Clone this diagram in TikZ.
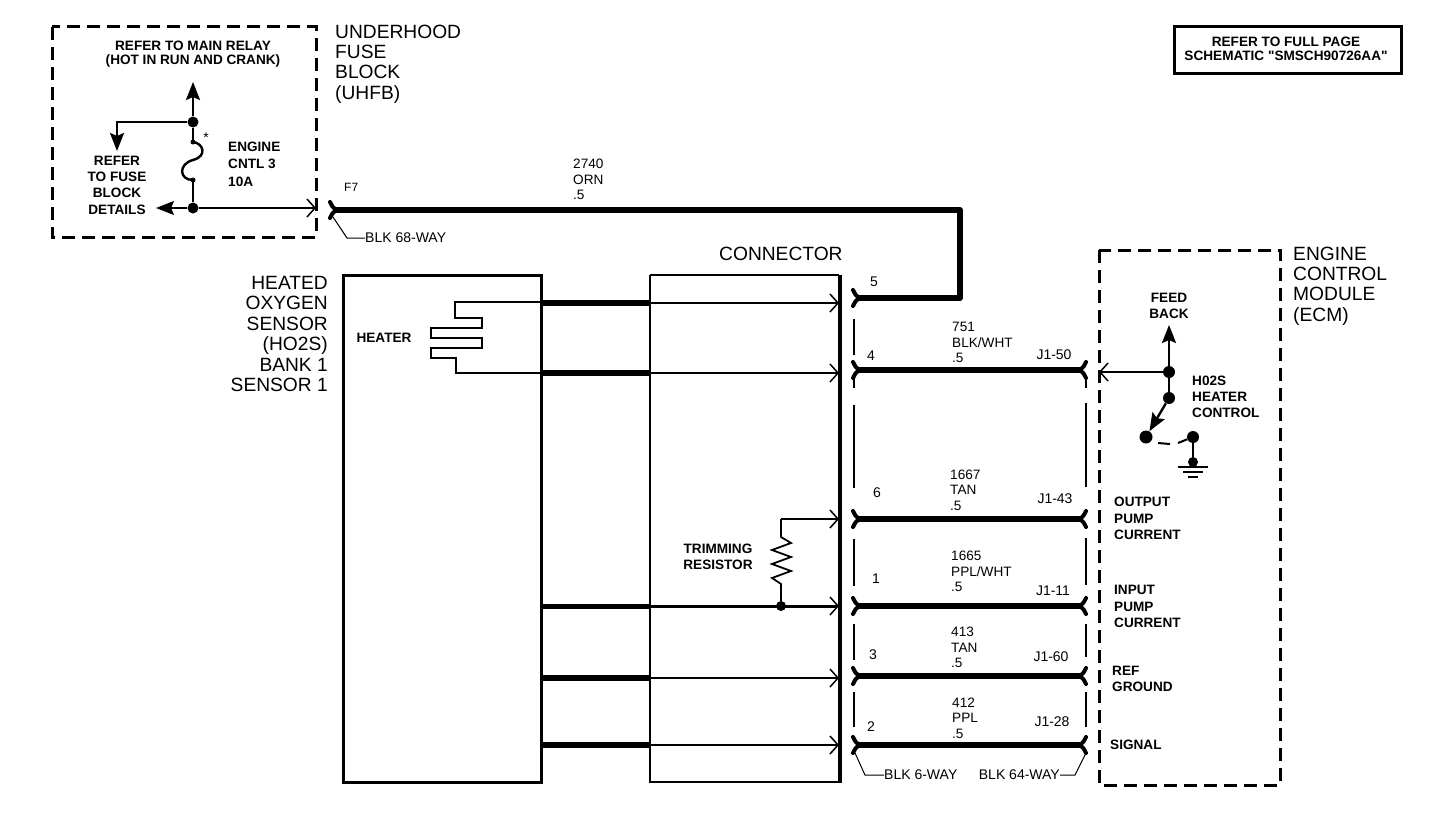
\documentclass[tikz,border=0pt]{standalone}
\usepackage{fontspec}
\setmainfont{Liberation Sans}
\newfontfamily\plainq{Liberation Sans}[Ligatures=ResetAll]
\usetikzlibrary{arrows.meta}
\tikzset{
  x=1pt,y=-1pt,
  big/.style={inner sep=0pt,font=\fontsize{19.2}{20.4}\selectfont,align=left,anchor=west},
  bigr/.style={inner sep=0pt,font=\fontsize{19.2}{20.4}\selectfont,align=right,anchor=east},
  small/.style={inner sep=0pt,font=\fontsize{13.6}{16.3}\selectfont\bfseries,align=left,anchor=west},
  smallc/.style={inner sep=0pt,font=\fontsize{13.6}{16.3}\selectfont\bfseries,align=center,anchor=center},
  wlabel/.style={inner sep=0pt,font=\fontsize{13.6}{15.6}\selectfont,align=left,anchor=west},
  tiny/.style={inner sep=0pt,font=\fontsize{14}{15}\selectfont,anchor=center},
  dbox/.style={draw,line width=3pt,dash pattern=on 13pt off 7pt},
  solidbox/.style={draw,line width=3pt},
  wire/.style={line width=6pt,line join=round},
  stub/.style={line width=6pt},
  mid/.style={line width=2.4pt,line join=miter},
  thin wire/.style={line width=1.2pt,line join=miter},
  open/.style={-{Straight Barb[length=8pt,width=18pt,line width=1.5pt]}},
  solidtip/.style={-{Stealth[length=18pt,width=14pt,inset=3pt]}},
  pinbar/.style={line width=4pt,line cap=round},
  guide/.style={line width=2pt},
  dot/.style={circle,fill,inner sep=0pt,minimum size=#1},
  dot/.default=11pt,
  leader/.style={line width=1pt},
  pinL/.pic={\draw[pinbar] (0,-8) .. controls (2,-4) and (3,-2) .. (6,0) .. controls (3,2) and (2,4) .. (0,8);},
  pinR/.pic={\draw[pinbar] (0,-8) .. controls (-2,-4) and (-3,-2) .. (-6,0) .. controls (-3,2) and (-2,4) .. (0,8);}
}
\begin{document}
\begin{tikzpicture}
\path[use as bounding box,fill=white] (0,0) rectangle (1440,816);

% boxes
\draw[dbox] (52,27) rectangle (316,237);
\draw[dbox] (1099,250) rectangle (1280,785);
\draw[solidbox] (1174,27) rectangle (1401,74);
\draw[line width=3pt] (343,275) rectangle (541,782);
\draw[line width=2.4pt] (650,275) -- (839,275);
\draw[line width=2.4pt] (650,275) -- (650,782) -- (839,782);
\draw[line width=3.5pt] (840,275) -- (840,783);

% refer box text
\node[smallc,font=\fontsize{13.6}{14}\selectfont\bfseries] (fullpage) at (1286,49) {REFER TO FULL PAGE\\SCHEMATIC {\plainq\bfseries"}SMSCH90726AA{\plainq\bfseries"}};

% titles
\node[big] (uhfb) at (335,64) {UNDERHOOD\\FUSE\\BLOCK\\(UHFB)};
\node[bigr] (ho2s) at (328,334) {HEATED\\OXYGEN\\SENSOR\\(HO2S)\\BANK 1\\SENSOR 1};
\node[big] (connector) at (719,254) {CONNECTOR};
\node[big] (ecm) at (1293,286) {ENGINE\\CONTROL\\MODULE\\(ECM)};

% fuse block
\node[smallc,font=\fontsize{13.6}{14}\selectfont\bfseries] (mainrelay) at (193,54) {REFER TO MAIN RELAY\\(HOT IN RUN AND CRANK)};
\node[smallc] (fusedetails) at (117,185) {REFER\\TO FUSE\\BLOCK\\DETAILS};
\node[small,font=\fontsize{13.6}{17.5}\selectfont\bfseries] (engcntl) at (228,164) {ENGINE\\CNTL 3\\10A};
\node[tiny] (star) at (206,138) {*};
\node[dot] (j1) at (193,122) {};
\node[dot] (j2) at (193,208) {};
\coordinate (relayup) at (193,82);
\coordinate (relayturn) at (117,122);
\coordinate (relaydown) at (117,151);
\coordinate (fusetop) at (193,142);
\coordinate (fusebot) at (193,180);
\coordinate (detailsleft) at (156,208);
\coordinate (uhfbpin) at (316,208);
\draw[mid,solidtip] (j1) -- (relayup);
\draw[mid,solidtip] (j1) -| (relaydown);
\draw[mid] (j1) -- (fusetop);
\draw[mid] (fusetop) .. controls (203,143) and (208,156) .. (193,160) .. controls (178,164) and (179,180) .. (fusebot);
\draw[mid] (fusebot) -- (j2);
\draw[thin wire,solidtip] (j2) -- (detailsleft);
\draw[thin wire,open] (j2) -- (uhfbpin);
\fill (fusetop) circle (2.5pt);
\fill (fusebot) circle (2.5pt);

% top wire
\node[tiny,anchor=west,font=\fontsize{12}{15}\selectfont] (f7) at (344,187) {F7};
\coordinate (wtL) at (330,210);
\coordinate (wtS) at (333,210);
\coordinate (wtC) at (960,210);
\coordinate (w5L) at (853,298);
\coordinate (w5S) at (856,298);
\coordinate (wtV) at (960,298);
\draw[wire] (wtS) -- (wtC) -- (wtV) -- (w5S);
\path (wtL) pic {pinL};
\path (w5L) pic {pinL};
\node[wlabel] (l2740) at (573,179.5) {2740\\ORN\\.5};
\coordinate (b68a) at (333,217);
\coordinate (b68b) at (347,238);
\node[tiny,anchor=west] (b68) at (365,238) {BLK 68-WAY};
\draw[leader] (b68a) -- (b68b) -- (b68);

% heater
\node[smallc] (heater) at (384,338) {HEATER};
\coordinate (h1) at (541,302);
\coordinate (h2) at (541,373);
\coordinate (c1) at (650,303);
\coordinate (c4) at (650,373);
\draw[thin wire,line width=1.6pt] (h1) -- (455,302) -- (455,318) -- (482,318) -- (482,328) -- (431,328) -- (431,338) -- (482,338) -- (482,348) -- (431,348) -- (431,358) -- (456,358) -- (456,373) -- (h2);

% sensor stubs
\coordinate (s5) at (541,303); \coordinate (a5) at (839,303);
\coordinate (s4) at (541,373); \coordinate (a4) at (839,373);
\coordinate (s1) at (541,606); \coordinate (c1b) at (650,606); \coordinate (a1) at (839,606);
\coordinate (s3) at (541,678); \coordinate (c3) at (650,678); \coordinate (a3) at (839,678);
\coordinate (s2) at (541,745); \coordinate (c2) at (650,745); \coordinate (a2) at (839,745);
\draw[stub] (s5) -- (c1); \draw[stub] (s4) -- (c4);
\draw[stub,line width=5pt] (s1) -- (c1b);
\draw[stub] (s3) -- (c3); \draw[stub] (s2) -- (c2);
\draw[thin wire,open] (c1) -- (a5);
\draw[thin wire,open] (c4) -- (a4);
\draw[mid,line width=3pt,open] (c1b) -- (a1);
\draw[thin wire,open] (c3) -- (a3);
\draw[thin wire,open] (c2) -- (a2);

% trimming resistor
\node[smallc] (trim) at (718,557) {TRIMMING\\RESISTOR};
\node[dot=10pt] (jr) at (781,606) {};
\coordinate (a6) at (839,519);
\draw[mid,line width=1.8pt] (jr) -- (781,584) -- (772,578) -- (791,571) -- (772,564) -- (791,557) -- (772,550) -- (791,543) -- (781,537) -- (781,519);
\draw[thin wire,line width=1.8pt,open] (781,519) -- (a6);

% wires to ECM
\foreach \n/\y in {4/370,6/519,1/606,3/676,2/745}{
  \coordinate (p\n L) at (853,\y);
  \coordinate (p\n R) at (1086,\y);
  \coordinate (q\n L) at (856,\y);
  \coordinate (q\n R) at (1083,\y);
  \draw[wire] (q\n L) -- (q\n R);
  \path (p\n L) pic {pinL};
  \path (p\n R) pic {pinR};
}
% guides
\foreach \a/\b in {319/355,377/388,405/488,539/586,624/660,692/727}{
  \draw[guide] (853.5,\a) -- (853.5,\b);
}
\foreach \a/\b in {379/388,403/487,538/585,624/657,692/727}{
  \draw[guide] (1086,\a) -- (1086,\b);
}

% pin numbers
\node[tiny] (n5) at (874,282) {5};
\node[tiny] (n4) at (871,356) {4};
\node[tiny] (n6) at (877,493) {6};
\node[tiny] (n1) at (876,579) {1};
\node[tiny] (n3) at (873,655) {3};
\node[tiny] (n2) at (871,727) {2};
% cavities
\node[tiny] (j50) at (1054,355) {J1-50};
\node[tiny] (j43) at (1055,499) {J1-43};
\node[tiny] (j11) at (1053,591) {J1-11};
\node[tiny] (j60) at (1051,657) {J1-60};
\node[tiny] (j28) at (1052,722) {J1-28};
% wire labels
\node[wlabel] (l751) at (952,342.5) {751\\BLK/WHT\\.5};
\node[wlabel] (l1667) at (950,490) {1667\\TAN\\.5};
\node[wlabel] (l1665) at (951,571.5) {1665\\PPL/WHT\\.5};
\node[wlabel] (l413) at (951,647.5) {413\\TAN\\.5};
\node[wlabel] (l412) at (952,718) {412\\PPL\\.5};
% bottom connector labels
\node[tiny,anchor=west] (b6) at (884,775) {BLK 6-WAY};
\node[tiny,anchor=east] (b64) at (1060,775) {BLK 64-WAY};
\coordinate (b6a) at (855,753);
\coordinate (b6b) at (865,775);
\coordinate (b64a) at (1086,753);
\coordinate (b64b) at (1075,775);
\draw[leader] (b6a) -- (b6b) -- (b6);
\draw[leader] (b64a) -- (b64b) -- (b64);

% ECM signal names
\node[small] (opc) at (1114,518.5) {OUTPUT\\PUMP\\CURRENT};
\node[small] (ipc) at (1114,606.5) {INPUT\\PUMP\\CURRENT};
\node[small] (ref) at (1112,679) {REF\\GROUND};
\node[small] (sig) at (1110,745) {SIGNAL};
\node[smallc] (feed) at (1169,306) {FEED\\BACK};
\node[small] (hctl) at (1192,397) {H02S\\HEATER\\CONTROL};

% ECM driver
\node[dot=12pt] (e1) at (1169,372) {};
\node[dot=12pt] (e2) at (1169,398) {};
\node[dot=13pt] (e3) at (1146,437) {};
\node[dot=12pt] (e4) at (1193,437) {};
\node[dot=10pt] (e5) at (1193,462) {};
\coordinate (eup) at (1169,325);
\coordinate (epin) at (1099,372);
\coordinate (g1a) at (1178,467); \coordinate (g1b) at (1208,467);
\coordinate (g2a) at (1183,472); \coordinate (g2b) at (1203,472);
\coordinate (g3a) at (1188,477); \coordinate (g3b) at (1198,477);
\draw[mid,solidtip] (e1) -- (eup);
\draw[thin wire,open] (e1) -- (epin);
\draw[mid] (e1) -- (e2);
\draw[mid,solidtip] (e2) -- (e3);
\draw[mid] (e4) -- (e5);
\draw[line width=2pt] (1158,443) -- (1170,444);
\draw[line width=2pt] (1178,443) -- (e4);
\draw[line width=1.5pt] (g1a) -- (g1b);
\draw[line width=1.5pt] (g2a) -- (g2b);
\draw[line width=2.5pt] (g3a) -- (g3b);
\end{tikzpicture}
\end{document}
